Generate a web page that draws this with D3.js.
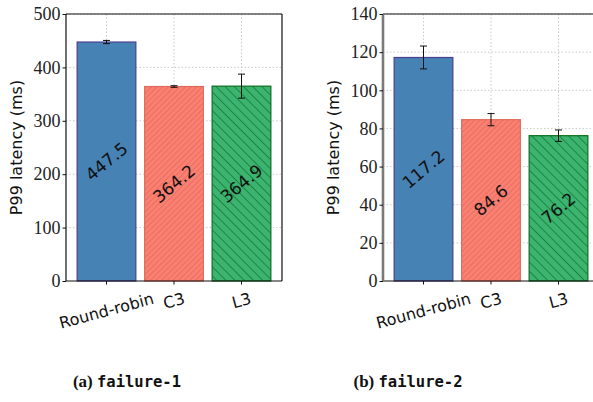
<!DOCTYPE html>
<html lang="en">
<head>
  <meta charset="UTF-8">
  <title>P99 latency under failure</title>
  <script src="https://d3js.org/d3.v7.min.js"></script>
  <style>
    html, body { margin: 0; padding: 0; background: #fff; }
    .tick-num { font-family: "Liberation Serif", serif; font-size: 18px; fill: #222; }
    .sans { font-family: "DejaVu Sans", sans-serif; }
  </style>
</head>
<body>
  <div id="container"></div>
  <script>
    // data
    const methods = ["Round-robin", "C3", "L3"];
    const failure1 = [447.5, 364.2, 364.9];
    const failure1Err = [3, 1.5, 22.5];
    const failure2 = [117.2, 84.6, 76.2];
    const failure2Err = [6, 3.2, 3];
    const yTicks1 = [0, 100, 200, 300, 400, 500];
    const yTicks2 = [0, 20, 40, 60, 80, 100, 120, 140];

    const fills = ["#4682b4", "url(#hatchC3)", "url(#hatchL3)"];
    const edges = ["#4b3f8f", "#e06a5e", "#0a6e1c"];

    const width = 593, height = 402;
    const svg = d3.select('#container').append('svg').attr('width', width).attr('height', height);

    // hatch patterns
    const defs = svg.append('defs');
    const p1 = defs.append('pattern').attr('id', 'hatchC3').attr('patternUnits', 'userSpaceOnUse')
      .attr('width', 4).attr('height', 4).attr('patternTransform', 'rotate(45)');
    p1.append('rect').attr('width', 4).attr('height', 4).attr('fill', '#fa8072');
    p1.append('line').attr('x1', 0).attr('y1', 0).attr('x2', 0).attr('y2', 4)
      .attr('stroke', '#e4675b').attr('stroke-width', 1.4);
    const p2 = defs.append('pattern').attr('id', 'hatchL3').attr('patternUnits', 'userSpaceOnUse')
      .attr('width', 6.5).attr('height', 6.5).attr('patternTransform', 'rotate(-45)');
    p2.append('rect').attr('width', 6.5).attr('height', 6.5).attr('fill', '#3cb371');
    p2.append('line').attr('x1', 0).attr('y1', 0).attr('x2', 0).attr('y2', 6.5)
      .attr('stroke', '#107a2a').attr('stroke-width', 1.5);

    function drawPanel(opts) {
      const { values, errs, ticks, yMax, left, top, bottom, caption, code, capX, grayLeft } = opts;
      const right = left + 216;
      const x = d3.scaleLinear().domain([-0.6, 2.6]).range([left, right]);
      const y = d3.scaleLinear().domain([0, yMax]).range([bottom, top]);
      const bw = x(0.87) - x(0);
      const g = svg.append('g');

      // grid
      g.selectAll('.gy').data(ticks.slice(1)).join('line')
        .attr('x1', left).attr('x2', right).attr('y1', d => y(d)).attr('y2', d => y(d))
        .attr('stroke', '#c4c4c4').attr('stroke-width', 0.9).attr('stroke-dasharray', '1.5,2');
      g.selectAll('.gx').data(methods).join('line')
        .attr('x1', (d, i) => x(i)).attr('x2', (d, i) => x(i)).attr('y1', top).attr('y2', bottom)
        .attr('stroke', '#c4c4c4').attr('stroke-width', 0.9).attr('stroke-dasharray', '1.5,2');

      // bars
      g.selectAll('.bar').data(values).join('rect')
        .attr('x', (d, i) => x(i) - bw / 2).attr('width', bw)
        .attr('y', d => y(d)).attr('height', d => bottom - y(d))
        .attr('fill', (d, i) => fills[i]).attr('stroke', (d, i) => edges[i]).attr('stroke-width', 1.2);

      // error bars
      values.forEach((v, i) => {
        const cx = x(i), y1 = y(v + errs[i]), y2 = y(v - errs[i]);
        g.append('line').attr('x1', cx).attr('x2', cx).attr('y1', y1).attr('y2', y2).attr('stroke', '#111').attr('stroke-width', 1);
        [y1, y2].forEach(yy => g.append('line').attr('x1', cx - 3.5).attr('x2', cx + 3.5).attr('y1', yy).attr('y2', yy)
          .attr('stroke', '#111').attr('stroke-width', 1));
      });

      // value labels
      g.selectAll('.val').data(values).join('text').attr('class', 'sans')
        .attr('transform', (d, i) => `translate(${x(i)},${y(d / 2)}) rotate(-40)`)
        .attr('text-anchor', 'middle').attr('dominant-baseline', 'central')
        .attr('font-size', 17).attr('fill', '#111').text(d => d.toFixed(1));

      // spines
      g.append('line').attr('x1', left).attr('x2', right).attr('y1', top).attr('y2', top).attr('stroke', '#111').attr('stroke-width', 1.2);
      g.append('line').attr('x1', right).attr('x2', right).attr('y1', top).attr('y2', bottom).attr('stroke', '#111').attr('stroke-width', 1.2);
      g.append('line').attr('x1', left).attr('x2', right).attr('y1', bottom).attr('y2', bottom).attr('stroke', '#111').attr('stroke-width', 1.2);
      g.append('line').attr('x1', left).attr('x2', left).attr('y1', top).attr('y2', bottom)
        .attr('stroke', grayLeft ? '#7a7a7a' : '#111').attr('stroke-width', grayLeft ? 2.6 : 1.2);

      // y axis ticks
      const yAxis = g.append('g').attr('transform', `translate(${left},0)`)
        .call(d3.axisLeft(y).tickValues(ticks).tickSize(3.5).tickPadding(2));
      yAxis.select('.domain').remove();
      yAxis.selectAll('.tick line').attr('stroke', '#111');
      yAxis.selectAll('.tick text').attr('class', 'tick-num').attr('font-size', null).attr('font-family', null).attr('fill', null);

      // x ticks
      g.selectAll('.xt').data(methods).join('line')
        .attr('x1', (d, i) => x(i)).attr('x2', (d, i) => x(i)).attr('y1', bottom).attr('y2', bottom + 3.5)
        .attr('stroke', '#111');
      g.selectAll('.xl').data(methods).join('text').attr('class', 'sans')
        .attr('font-size', 16).attr('fill', '#111').attr('text-anchor', 'middle').attr('dominant-baseline', 'central')
        .text(d => d)
        .each(function (d, i) {
          const b = this.getBBox();
          const a = 15 * Math.PI / 180;
          const H = b.width * Math.sin(a) + b.height * Math.cos(a);
          const cy = bottom + 8 + H / 2;
          d3.select(this).attr('transform', `translate(${x(i)},${cy}) rotate(-15)`);
        });

      // y label
      g.append('text').attr('class', 'sans').attr('font-size', 16).attr('fill', '#111')
        .attr('text-anchor', 'middle')
        .attr('transform', `translate(${left - 44},${(top + bottom) / 2}) rotate(-90)`)
        .text('P99 latency (ms)');

      // caption
      const cap = svg.append('text').attr('x', capX).attr('y', 387).attr('text-anchor', 'middle')
        .attr('font-weight', 'bold').attr('fill', '#111');
      cap.append('tspan').attr('font-family', 'Liberation Serif, serif').attr('font-size', 17).text(caption + ' ');
      cap.append('tspan').attr('font-family', 'DejaVu Sans Mono, monospace').attr('font-size', 15.5).text(code);
    }

    drawPanel({ values: failure1, errs: failure1Err, ticks: yTicks1, yMax: 500, left: 66, top: 14, bottom: 281,
      caption: '(a)', code: 'failure-1', capX: 127, grayLeft: false });
    drawPanel({ values: failure2, errs: failure2Err, ticks: yTicks2, yMax: 140, left: 383, top: 14, bottom: 281,
      caption: '(b)', code: 'failure-2', capX: 408, grayLeft: true });
  </script>
</body>
</html>
